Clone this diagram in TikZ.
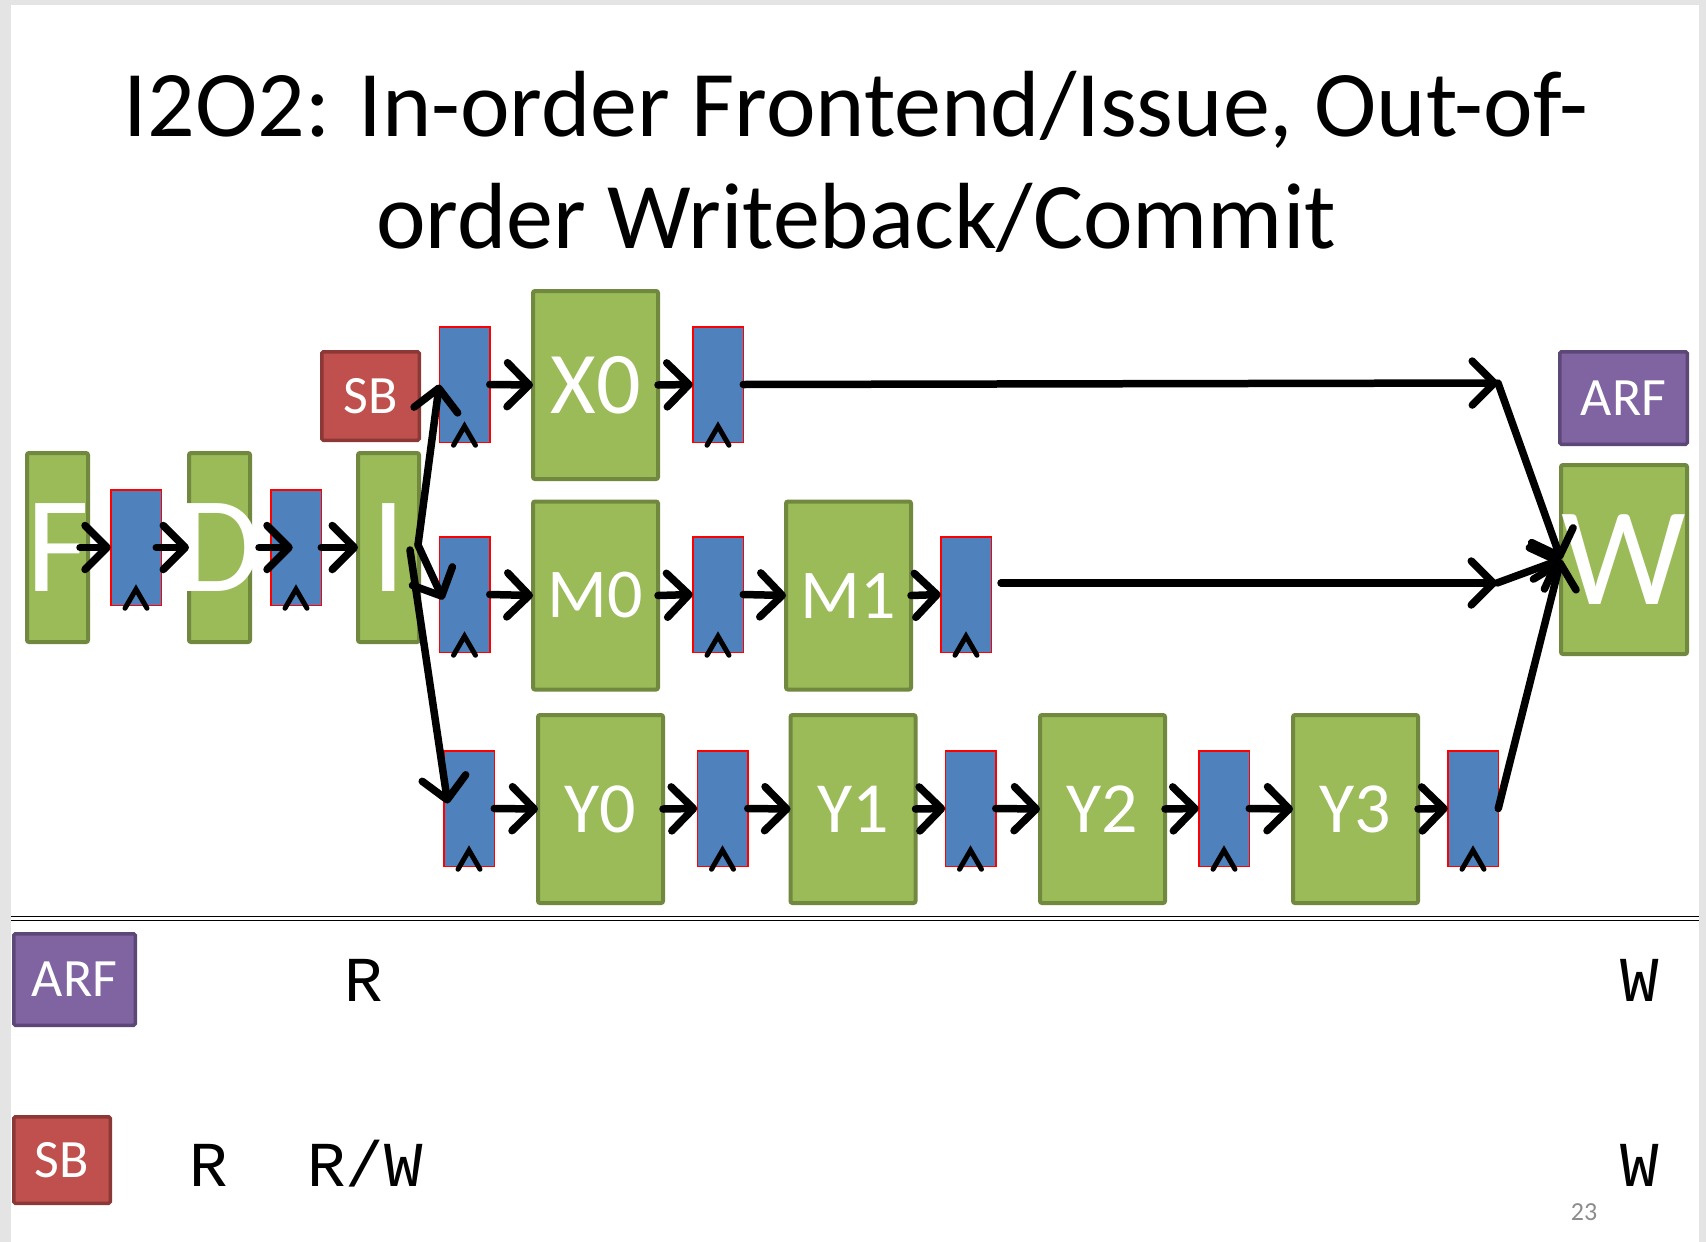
\documentclass[tikz,border=0pt]{standalone}
\usepackage{fontspec}
\setmainfont{Carlito}
\newfontfamily\monof{Liberation Mono}
\usetikzlibrary{arrows.meta}
\definecolor{gfill}{HTML}{9BBB59}
\definecolor{gline}{HTML}{71893F}
\definecolor{bfill}{HTML}{4F81BD}
\definecolor{rfill}{HTML}{C0504D}
\definecolor{rline}{HTML}{8C3836}
\definecolor{pfill}{HTML}{8064A2}
\definecolor{pline}{HTML}{5C4776}
\definecolor{framec}{HTML}{E4E4E4}
\definecolor{numc}{HTML}{8C8C8C}
\begin{document}
\begin{tikzpicture}[x=1pt,y=-1pt,
  gbox/.style={draw=gline, fill=gfill, line width=4pt, rounded corners=2pt, inner sep=0pt, outer sep=0pt, text=white},
  narrow/.style={gbox, minimum width=61pt, minimum height=189pt, font=\fontsize{137}{137}\selectfont},
  wide/.style={gbox, minimum width=125pt, minimum height=188pt},
  latch/.style={draw=red, fill=bfill, line width=1.5pt, inner sep=0pt, outer sep=0pt, minimum width=50.5pt, minimum height=115.5pt},
  sbbox/.style={draw=rline, fill=rfill, line width=3.5pt, rounded corners=1.5pt, inner sep=0pt, text=white, font=\fontsize{54}{54}\selectfont},
  arfbox/.style={draw=pline, fill=pfill, line width=3.5pt, rounded corners=1.5pt, inner sep=0pt, text=white, font=\fontsize{54}{54}\selectfont},
  chev/.style={line width=5pt, line cap=round, line join=miter},
  arr/.style={line width=7.5pt, line cap=round, -{Straight Barb[length=22pt, width=44pt, line cap=round, line join=round]}},
  ttl/.style={anchor=base, inner sep=0pt, font=\fontsize{94}{94}\selectfont},
  mono/.style={anchor=base, inner sep=0pt, font=\monof\fontsize{64}{64}\selectfont}
]
\useasboundingbox (0,0) rectangle (1706,1242);
\fill[framec] (0,0) rectangle (1706,1242);
\fill[white] (11,5) rectangle (1699,1242);

% title
\node[ttl] (t1) at (856,136) {I2O2: In-order Frontend/Issue, Out-of-};
\node[ttl] (t2) at (856,248) {order Writeback/Commit};

% front end
\node[narrow] (F) at (57.5,547.5) {\makebox[0pt]{F}};
\node[latch] (L1) at (136,547.5) {};
\node[narrow] (D) at (219.5,547.5) {\makebox[0pt]{D}};
\node[latch] (L2) at (296,547.5) {};
\node[narrow] (I) at (388.5,547.5) {\makebox[0pt]{I}};
\node[sbbox, minimum width=97.5pt, minimum height=88.5pt] (SB) at (370.5,396) {SB};

% X row
\node[latch] (XL) at (464.5,384.5) {};
\node[wide, font=\fontsize{88}{88}\selectfont] (X0) at (595.5,385) {X0};
\node[latch] (XO) at (718,384.5) {};

% M row
\node[latch] (ML) at (464.5,594.5) {};
\node[wide, font=\fontsize{70}{70}\selectfont] (M0) at (595.5,595.5) {M0};
\node[latch] (MO0) at (718,594.5) {};
\node[wide, font=\fontsize{70}{70}\selectfont] (M1) at (848.5,595.5) {M1};
\node[latch] (MO1) at (966,594.5) {};

% Y row
\node[latch] (YL) at (469,808.5) {};
\node[wide, font=\fontsize{72}{72}\selectfont] (Y0) at (600.5,809) {Y0};
\node[latch] (YO0) at (722.5,808.5) {};
\node[wide, font=\fontsize{72}{72}\selectfont] (Y1) at (853,809) {Y1};
\node[latch] (YO1) at (970.5,808.5) {};
\node[wide, font=\fontsize{72}{72}\selectfont] (Y2) at (1102.5,809) {Y2};
\node[latch] (YO2) at (1224,808.5) {};
\node[wide, font=\fontsize{72}{72}\selectfont] (Y3) at (1355.5,809) {Y3};
\node[latch] (YO3) at (1473,808.5) {};

% writeback
\node[arfbox, minimum width=127.5pt, minimum height=92.5pt] (ARF) at (1623.5,398) {ARF};
\node[gbox, minimum width=126pt, minimum height=189pt, font=\fontsize{140}{140}\selectfont] (W) at (1624,559.5) {\makebox[0pt]{W}};

% chevrons
\foreach \n in {L1,L2,XL,XO,ML,MO0,MO1,YL,YO0,YO1,YO2,YO3}{
  \draw[chev] ([shift={(-11pt,-3pt)}]\n.south) -- ([yshift=16pt]\n.south) -- ([shift={(11pt,-3pt)}]\n.south);
}

% front-end arrows
\draw[arr] ([xshift=-8pt]F.east) -- (L1.west);
\draw[arr] ([xshift=-5pt]L1.east) -- (D.west);
\draw[arr] ([xshift=9pt]D.east) -- ([xshift=22pt]L2.west);
\draw[arr] (L2.east) -- (I.west);

% issue arrows
\coordinate (iu) at (418,545);
\coordinate (id) at (410,550);
\draw[arr] (iu) -- (XL.west);
\draw[arr] (iu) -- ([shift={(4pt,-5pt)}]ML.west);
\draw[arr] (id) -- ([shift={(4pt,5pt)}]YL.west);

% row arrows
\draw[arr] (XL.east) -- (X0.west);
\draw[arr] (X0.east) -- (XO.west);
\draw[arr] (ML.east) -- (M0.west);
\draw[arr] (M0.east) -- (MO0.west);
\draw[arr] (MO0.east) -- (M1.west);
\draw[arr] (M1.east) -- (MO1.west);
\draw[arr] (YL.east) -- (Y0.west);
\draw[arr] (Y0.east) -- (YO0.west);
\draw[arr] (YO0.east) -- (Y1.west);
\draw[arr] (Y1.east) -- (YO1.west);
\draw[arr] (YO1.east) -- (Y2.west);
\draw[arr] (Y2.east) -- (YO2.west);
\draw[arr] (YO2.east) -- (Y3.west);
\draw[arr] (Y3.east) -- (YO3.west);

% to writeback
\coordinate (xj) at (1498,383);
\coordinate (ms) at (1001,583);
\coordinate (mj) at (1497,583);
\draw[arr] (XO.east) -- (xj);
\draw[arr] (xj) -- (W.west);
\draw[arr] (ms) -- (mj);
\draw[arr] (mj) -- (W.west);
\draw[arr] (YO3.east) -- (W.west);

% separator
\draw[line width=1.8pt] (11,916.5) -- (1699,916.5);
\draw[line width=1.8pt] (11,920.5) -- (1699,920.5);

% table
\node[arfbox, minimum width=121.5pt, minimum height=91.5pt] (ARF2) at (74.5,979.5) {ARF};
\node[sbbox, minimum width=96.5pt, minimum height=86.5pt] (SB2) at (62,1160) {SB};
\node[mono] (r1) at (364,1001) {R};
\node[mono] (w1) at (1640,1001) {W};
\node[mono] (r2) at (209,1186) {R};
\node[mono] (rw2) at (365,1186) {R/W};
\node[mono] (w2) at (1640,1186) {W};
\node[anchor=base, inner sep=0pt, text=numc, font=\fontsize{26}{26}\selectfont] (pg) at (1584,1220) {23};
\end{tikzpicture}
\end{document}
